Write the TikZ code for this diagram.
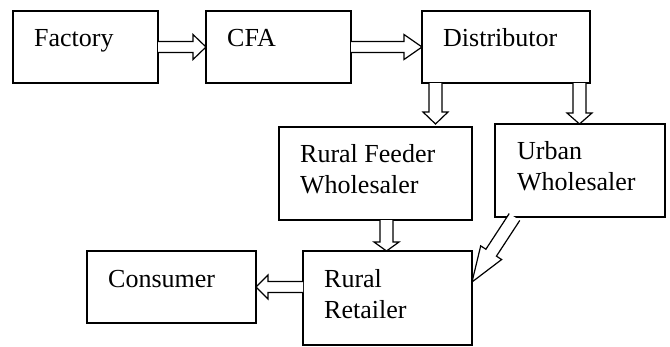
\documentclass[tikz,border=0pt]{standalone}
\usepackage{fontspec}
\setmainfont{Liberation Serif}
\usetikzlibrary{calc}
\tikzset{
  box/.style={draw, line width=1.2pt, anchor=north west, inner sep=0pt, outer sep=0pt},
  boxtext/.style={anchor=base west, inner sep=0pt, align=left, font=\fontsize{26}{31}\selectfont},
  blockarr/.style={draw, line width=1.2pt, line join=miter, fill=white},
}
\newcommand\blockarrow[5]{%
  \draw[blockarr] let \p1=#1, \p2=#2,
    \n1={atan2(\y2-\y1,\x2-\x1)}, \n2={veclen(\x2-\x1,\y2-\y1)} in
    [shift={(\p1)}, rotate=\n1]
    (0,-#3) -- ({\n2-#5},-#3) -- ({\n2-#5},-#4) -- (\n2,0) -- ({\n2-#5},#4) -- ({\n2-#5},#3) -- (0,#3);
}
\begin{document}
\begin{tikzpicture}[x=1pt, y=-1pt]
\useasboundingbox (0,0) rectangle (670,346);
% boxes
\node[box, minimum width=145pt, minimum height=72pt] (fac) at (13,11) {};
\node[box, minimum width=145pt, minimum height=72pt] (cfa) at (206,11) {};
\node[box, minimum width=168pt, minimum height=72pt] (dist) at (422,11) {};
\node[box, minimum width=193pt, minimum height=93pt] (rfw) at (279,127) {};
\node[box, minimum width=170pt, minimum height=93pt] (urb) at (495,124) {};
\node[box, minimum width=169pt, minimum height=72pt] (con) at (87,251) {};
\node[box, minimum width=169pt, minimum height=94pt] (rr) at (303,251) {};
% texts
\node[boxtext] (tfac) at ([shift={(21,35.5)}]fac.north west) {Factory};
\node[boxtext] (tcfa) at ([shift={(21,35.5)}]cfa.north west) {CFA};
\node[boxtext] (tdist) at ([shift={(21,35.5)}]dist.north west) {Distributor};
\node[boxtext] (trfw) at ([shift={(21,66.5)}]rfw.north west) {Rural Feeder\\Wholesaler};
\node[boxtext] (turb) at ([shift={(22,66.5)}]urb.north west) {Urban\\Wholesaler};
\node[boxtext] (tcon) at ([shift={(21,36)}]con.north west) {Consumer};
\node[boxtext] (trr) at ([shift={(21,67)}]rr.north west) {Rural\\Retailer};
% arrows
\blockarrow{(fac.east)}{(cfa.west)}{5.5}{12.5}{13}
\blockarrow{(cfa.east)}{(dist.west)}{5.5}{12.5}{18}
\blockarrow{($(dist.south west)+(13.5,0)$)}{($(rfw.north west)+(156.5,-3)$)}{6.5}{12.5}{12}
\blockarrow{($(dist.south west)+(157.5,0)$)}{($(urb.north west)+(84.5,0)$)}{6.5}{12.5}{11}
\blockarrow{($(rfw.south west)+(107.5,0)$)}{($(rr.north west)+(83.5,0)$)}{6.5}{12.5}{9}
\blockarrow{(rr.west |- con.east)}{(con.east)}{5.5}{12}{12}
\blockarrow{($(urb.south west)+(19.5,0)$)}{($(rr.east)+(0,-16)$)}{6.3}{12.5}{35}
\end{tikzpicture}
\end{document}
